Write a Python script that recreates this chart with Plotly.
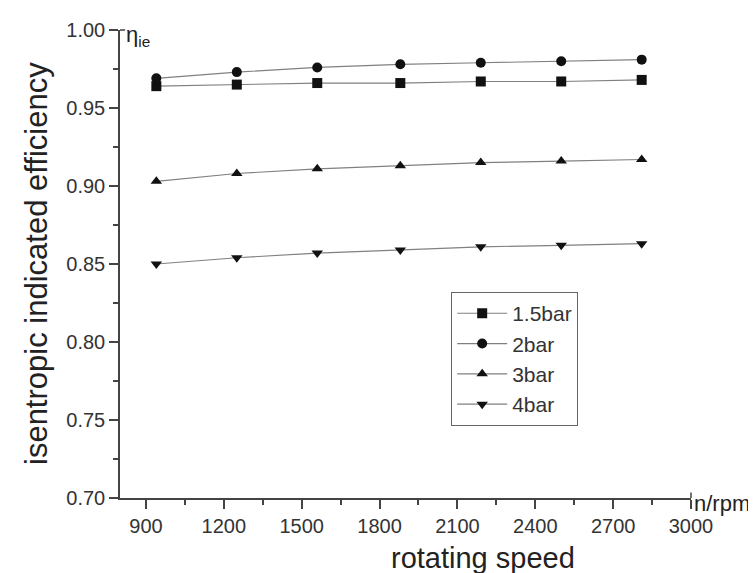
import plotly.graph_objects as go

speed = [940, 1250, 1560, 1880, 2190, 2500, 2810]
eff_15bar = [0.964, 0.965, 0.966, 0.966, 0.967, 0.967, 0.968]
eff_2bar = [0.969, 0.973, 0.976, 0.978, 0.979, 0.980, 0.981]
eff_3bar = [0.903, 0.908, 0.911, 0.913, 0.915, 0.916, 0.917]
eff_4bar = [0.850, 0.854, 0.857, 0.859, 0.861, 0.862, 0.863]
series_names = ["1.5bar", "2bar", "3bar", "4bar"]
series_symbols = ["square", "circle", "triangle-up", "triangle-down"]
x_ticks = [900, 1200, 1500, 1800, 2100, 2400, 2700, 3000]
y_ticks = [0.70, 0.75, 0.80, 0.85, 0.90, 0.95, 1.00]

fig = go.Figure()
for name, sym, vals in zip(series_names, series_symbols,
                           [eff_15bar, eff_2bar, eff_3bar, eff_4bar]):
    fig.add_trace(go.Scatter(
        x=speed, y=vals, name=name, mode="lines+markers",
        line=dict(color="#808080", width=1.2),
        marker=dict(symbol=sym, size=10, color="#111111"),
    ))

font_family = "Liberation Sans, Arial, sans-serif"
fig.update_layout(
    width=756, height=573,
    margin=dict(l=112, r=73, t=22, b=83),
    paper_bgcolor="white", plot_bgcolor="white",
    font=dict(family=font_family, color="#333333", size=20),
    showlegend=True,
    legend=dict(
        x=0.58, y=0.44, xanchor="left", yanchor="top",
        bordercolor="#666666", borderwidth=1, bgcolor="white",
        font=dict(size=21, color="#333333"),
        tracegroupgap=0, itemwidth=50,
    ),
    xaxis=dict(
        range=[800, 3000], tickmode="array", tickvals=x_ticks,
        ticktext=[str(v) for v in x_ticks],
        showline=True, linecolor="#444444", linewidth=1.5,
        ticks="outside", ticklen=9, tickwidth=1.5, tickcolor="#444444",
        minor=dict(dtick=150, tick0=900, ticks="outside", ticklen=5,
                   tickwidth=1.5, tickcolor="#444444"),
        showgrid=False, zeroline=False,
        tickfont=dict(size=20, color="#333333"),
    ),
    yaxis=dict(
        range=[0.70, 1.00], tickmode="array", tickvals=y_ticks,
        ticktext=[f"{v:.2f}" for v in y_ticks],
        showline=True, linecolor="#444444", linewidth=1.5,
        ticks="outside", ticklen=9, tickwidth=1.5, tickcolor="#444444",
        minor=dict(dtick=0.025, tick0=0.70, ticks="outside", ticklen=5,
                   tickwidth=1.5, tickcolor="#444444"),
        showgrid=False, zeroline=False,
        tickfont=dict(size=20, color="#333333"),
    ),
    annotations=[
        dict(text="isentropic indicated efficiency", x=0, xref="paper",
             y=0.5, yref="paper", xanchor="center", yanchor="middle",
             xshift=-84, textangle=-90, showarrow=False,
             font=dict(size=31, color="#222222")),
        dict(text="rotating speed", x=0.636, xref="paper", y=0,
             yref="paper", xanchor="center", yanchor="middle",
             yshift=-60, showarrow=False,
             font=dict(size=29, color="#222222")),
        dict(text="n/rpm", x=1, xref="paper", y=0, yref="paper",
             xanchor="left", yanchor="middle", xshift=1, yshift=-5,
             showarrow=False, font=dict(size=22, color="#222222")),
        dict(text="η<sub>ie</sub>", x=0, xref="paper", y=1, yref="paper",
             xanchor="left", yanchor="middle", xshift=4, yshift=-6,
             showarrow=False, font=dict(size=22, color="#222222")),
    ],
    shapes=[
        dict(type="line", xref="paper", yref="paper", x0=0, x1=0.009,
             y0=1, y1=1, line=dict(color="#444444", width=1.5)),
        dict(type="line", xref="paper", yref="paper", x0=1, x1=1,
             y0=0, y1=0.012, line=dict(color="#444444", width=1.5)),
    ],
)

fig.write_html("out.html")
